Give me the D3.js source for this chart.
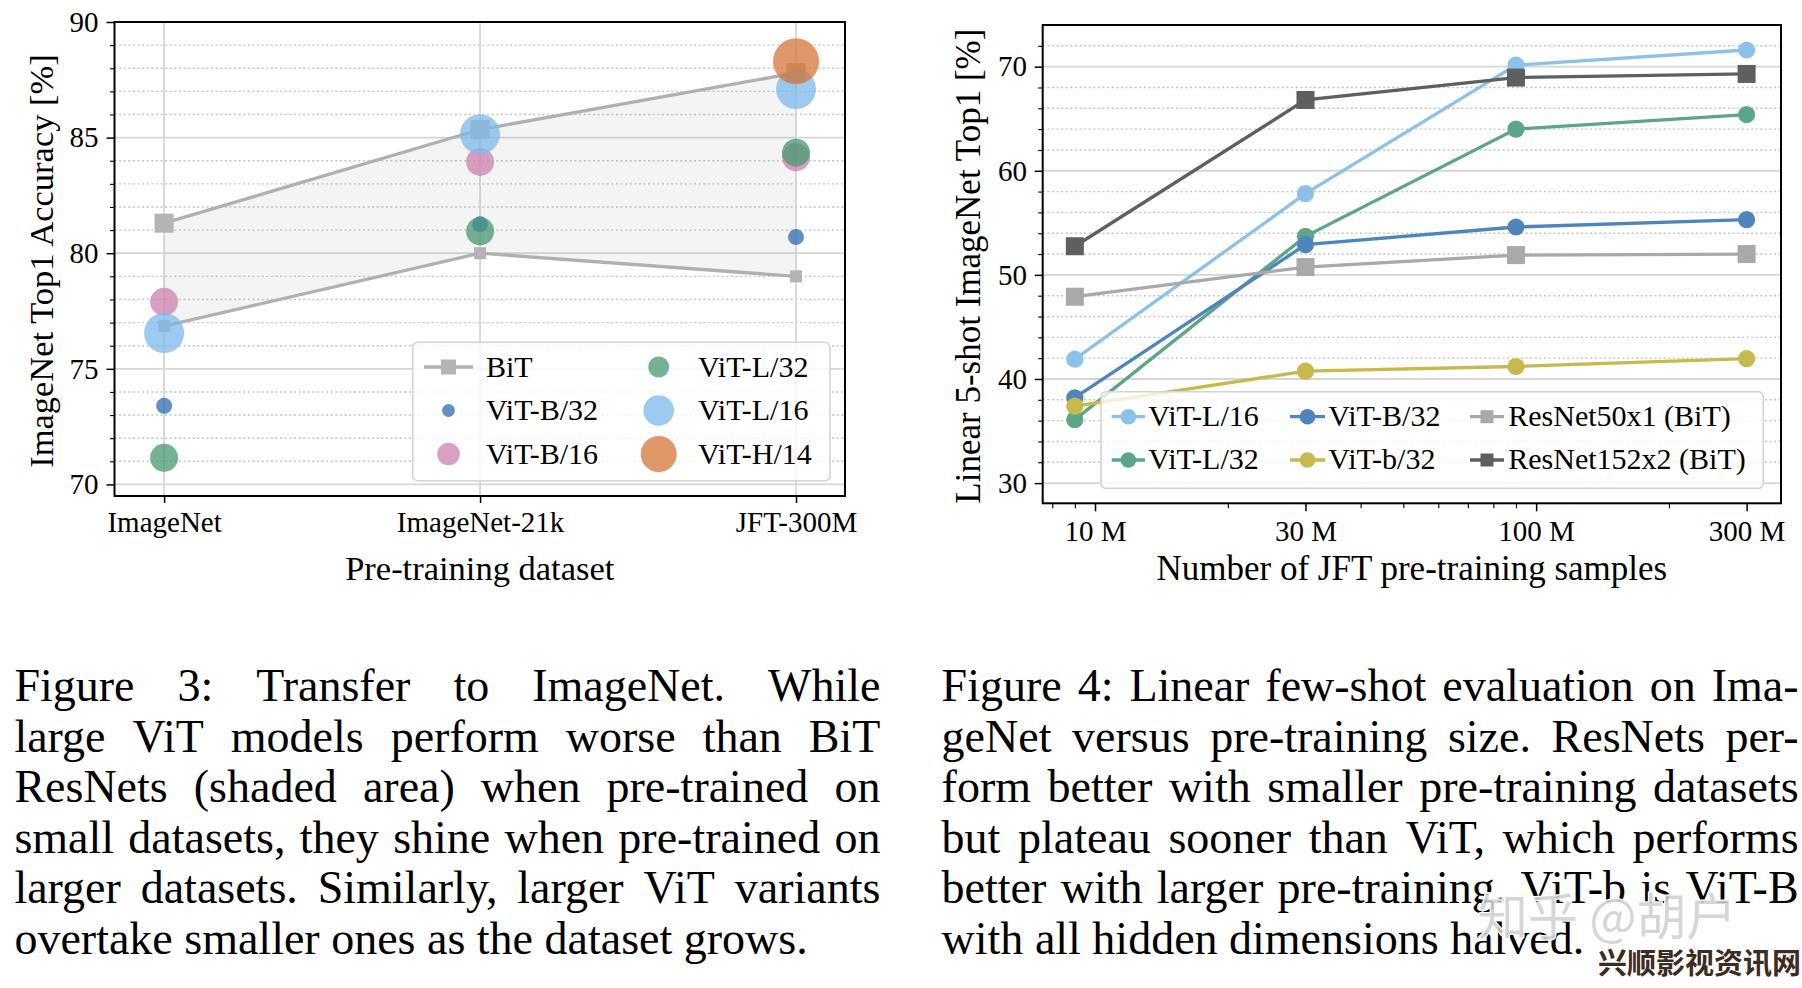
<!DOCTYPE html>
<html><head><meta charset="utf-8">
<script src="https://cdn.jsdelivr.net/npm/d3@7"></script>
<style>
html,body{margin:0;padding:0;background:#fff;}
svg{display:block;}
</style></head><body>
<svg id="fig" width="1802" height="988"></svg>
<script>
// ---------------- data: Figure 3 ----------------
const datasets = ["ImageNet", "ImageNet-21k", "JFT-300M"];
const bitUpper = [81.3, 85.35, 87.8];
const bitLower = [76.85, 80.0, 79.0];
const vitB32 = [73.4, 81.25, 80.7];
const vitB16 = [77.9, 83.95, 84.15];
const vitL32 = [71.15, 80.95, 84.35];
const vitL16 = [76.55, 85.15, 87.1];
const vitH14 = [null, null, 88.3];
const yTicks1 = [70, 75, 80, 85, 90];

// ---------------- data: Figure 4 ----------------
const samples = [9e6, 3e7, 9e7, 3e8];
const sampleTicks = [1e7, 3e7, 1e8, 3e8];
const sampleTickLabels = ["10 M", "30 M", "100 M", "300 M"];
const fsL16 = [41.9, 57.8, 70.15, 71.6];
const fsL32 = [36.1, 53.7, 64.0, 65.4];
const fsB32 = [38.2, 52.9, 54.6, 55.3];
const fsb32 = [37.4, 40.75, 41.2, 41.95];
const fsR50 = [47.9, 50.75, 51.9, 52.0];
const fsR152 = [52.75, 66.8, 68.95, 69.3];
const yTicks2 = [30, 40, 50, 60, 70];

// ---------------- captions ----------------
const caption3 = [
  "Figure 3: Transfer to ImageNet. While",
  "large ViT models perform worse than BiT",
  "ResNets (shaded area) when pre-trained on",
  "small datasets, they shine when pre-trained on",
  "larger datasets. Similarly, larger ViT variants",
  "overtake smaller ones as the dataset grows."
];
const caption4 = [
  "Figure 4: Linear few-shot evaluation on Ima-",
  "geNet versus pre-training size. ResNets per-",
  "form better with smaller pre-training datasets",
  "but plateau sooner than ViT, which performs",
  "better with larger pre-training. ViT-b is ViT-B",
  "with all hidden dimensions halved."
];

const SERIF = '"Liberation Serif","Times New Roman",serif';
const svg = d3.select("#fig");

function styleAxis(g, fs, sw) {
  g.attr("font-family", null).attr("font-size", null);
  g.select(".domain").remove();
  g.selectAll(".tick line").attr("stroke", "#000").attr("stroke-width", sw);
  g.selectAll(".tick text").attr("fill", "#000")
    .style("font-size", fs + "px").style("font-family", SERIF);
}

// ================= Figure 3 =================
const c1 = {l: 114.5, r: 845, t: 22, b: 496};
const x1 = d3.scaleLinear().domain([-0.157, 2.155]).range([c1.l, c1.r]);
const y1 = d3.scaleLinear().domain([69.5, 90]).range([c1.b, c1.t]);
const g1 = svg.append("g");

const minor1 = d3.range(70, 90).filter(v => v % 5 !== 0);
g1.selectAll(".mg1").data(minor1).join("line")
  .attr("x1", c1.l).attr("x2", c1.r).attr("y1", d => y1(d)).attr("y2", d => y1(d))
  .attr("stroke", "#c4c4c4").attr("stroke-width", 1.4).attr("stroke-dasharray", "2,2.6");
g1.selectAll(".Mg1").data(yTicks1).join("line")
  .attr("x1", c1.l).attr("x2", c1.r).attr("y1", d => y1(d)).attr("y2", d => y1(d))
  .attr("stroke", "#d6d6d6").attr("stroke-width", 1.8);
g1.selectAll(".vg1").data(datasets).join("line")
  .attr("x1", (d, i) => x1(i)).attr("x2", (d, i) => x1(i)).attr("y1", c1.t).attr("y2", c1.b)
  .attr("stroke", "#d6d6d6").attr("stroke-width", 1.8);

const area1 = d3.area().x((d, i) => x1(i)).y0((d, i) => y1(bitLower[i])).y1((d, i) => y1(bitUpper[i]));
g1.append("path").datum(datasets).attr("d", area1).attr("fill", "#9a9a9a").attr("fill-opacity", 0.11);
const line1 = d3.line().x((d, i) => x1(i)).y(d => y1(d));
[bitUpper, bitLower].forEach(arr => {
  g1.append("path").datum(arr).attr("d", line1).attr("fill", "none")
    .attr("stroke", "#b0b0b0").attr("stroke-width", 3.3);
});
[[bitUpper, 19], [bitLower, 12]].forEach(([arr, s]) => {
  g1.selectAll(null).data(arr).join("rect")
    .attr("x", (d, i) => x1(i) - s / 2).attr("y", d => y1(d) - s / 2)
    .attr("width", s).attr("height", s).attr("fill", "#b4b4b4");
});

const vitSeries = [
  {name: "ViT-B/32", vals: vitB32, color: "#2c6bb2", r: 8, lr: 6.4},
  {name: "ViT-B/16", vals: vitB16, color: "#cc80ae", r: 14, lr: 11.3},
  {name: "ViT-L/32", vals: vitL32, color: "#469870", r: 14, lr: 10.5},
  {name: "ViT-L/16", vals: vitL16, color: "#7bbaea", r: 20, lr: 15.3},
  {name: "ViT-H/14", vals: vitH14, color: "#d67438", r: 23, lr: 18}
];
vitSeries.forEach(s => {
  g1.selectAll(null).data(s.vals.map((v, i) => ({v, i})).filter(d => d.v !== null)).join("circle")
    .attr("cx", d => x1(d.i)).attr("cy", d => y1(d.v)).attr("r", s.r)
    .attr("fill", s.color).attr("fill-opacity", 0.75);
});

const ax1y = svg.append("g").attr("transform", `translate(${c1.l},0)`)
  .call(d3.axisLeft(y1).tickValues(yTicks1).tickSize(8).tickPadding(8).tickFormat(d3.format("d")));
styleAxis(ax1y, 29, 1.5);
const ax1ym = svg.append("g").attr("transform", `translate(${c1.l},0)`)
  .call(d3.axisLeft(y1).tickValues(minor1).tickSize(4.5).tickFormat(""));
styleAxis(ax1ym, 29, 1.1);
const ax1x = svg.append("g").attr("transform", `translate(0,${c1.b})`)
  .call(d3.axisBottom(x1).tickValues([0, 1, 2]).tickSize(7).tickPadding(8.4).tickFormat(i => datasets[i]));
styleAxis(ax1x, 29, 1.5);

svg.append("rect").attr("x", c1.l).attr("y", c1.t).attr("width", c1.r - c1.l).attr("height", c1.b - c1.t)
  .attr("fill", "none").attr("stroke", "#000").attr("stroke-width", 2);

svg.append("text").attr("x", (c1.l + c1.r) / 2).attr("y", 580).attr("text-anchor", "middle")
  .style("font-family", SERIF).style("font-size", "34.5px").text("Pre-training dataset");
svg.append("text").attr("transform", `translate(53,${(c1.t + c1.b) / 2 + 2}) rotate(-90)`).attr("text-anchor", "middle")
  .style("font-family", SERIF).style("font-size", "34.5px").text("ImageNet Top1 Accuracy [%]");

// legend 1
const lg1 = svg.append("g");
lg1.append("rect").attr("x", 412.7).attr("y", 342.3).attr("width", 417.3).attr("height", 138.4).attr("rx", 5)
  .attr("fill", "#fff").attr("fill-opacity", 0.8).attr("stroke", "#d4d4d4").attr("stroke-width", 1.6);
const rows1 = [367, 410.5, 454];
const legItems1 = [
  {type: "bit", name: "BiT", col: 0, row: 0},
  {type: "vit", s: vitSeries[0], col: 0, row: 1},
  {type: "vit", s: vitSeries[1], col: 0, row: 2},
  {type: "vit", s: vitSeries[2], col: 1, row: 0},
  {type: "vit", s: vitSeries[3], col: 1, row: 1},
  {type: "vit", s: vitSeries[4], col: 1, row: 2}
];
const colX1 = [{m: 448.5, t: 486}, {m: 658.7, t: 698}];
legItems1.forEach(it => {
  const cy = rows1[it.row], cx = colX1[it.col];
  if (it.type === "bit") {
    lg1.append("line").attr("x1", 424).attr("x2", 473).attr("y1", cy).attr("y2", cy)
      .attr("stroke", "#b0b0b0").attr("stroke-width", 3.3);
    lg1.append("rect").attr("x", cx.m - 7.5).attr("y", cy - 7.5).attr("width", 15).attr("height", 15).attr("fill", "#b4b4b4");
  } else {
    lg1.append("circle").attr("cx", cx.m).attr("cy", cy).attr("r", it.s.lr)
      .attr("fill", it.s.color).attr("fill-opacity", 0.75);
  }
  lg1.append("text").attr("x", cx.t).attr("y", cy).attr("dy", "0.32em")
    .style("font-family", SERIF).style("font-size", "30px").text(it.type === "bit" ? it.name : it.s.name);
});

// ================= Figure 4 =================
const c2 = {l: 1042.7, r: 1781, t: 25, b: 503.3};
const x2 = d3.scaleLog().domain([7.61e6, 3.59e8]).range([c2.l, c2.r]);
const y2 = d3.scaleLinear().domain([28.06, 74.0]).range([c2.b, c2.t]);
const g2 = svg.append("g");
const minor2 = d3.range(30, 74, 2).filter(v => v % 10 !== 0);
g2.selectAll(".mg2").data(minor2).join("line")
  .attr("x1", c2.l).attr("x2", c2.r).attr("y1", d => y2(d)).attr("y2", d => y2(d))
  .attr("stroke", "#c4c4c4").attr("stroke-width", 1.4).attr("stroke-dasharray", "2,2.6");
g2.selectAll(".Mg2").data(yTicks2).join("line")
  .attr("x1", c2.l).attr("x2", c2.r).attr("y1", d => y2(d)).attr("y2", d => y2(d))
  .attr("stroke", "#d6d6d6").attr("stroke-width", 1.8);

const fsSeries = [
  {name: "ViT-L/16", vals: fsL16, color: "#8cc2ea", m: "c"},
  {name: "ViT-L/32", vals: fsL32, color: "#5ba687", m: "c"},
  {name: "ViT-B/32", vals: fsB32, color: "#4f85bd", m: "c"},
  {name: "ViT-b/32", vals: fsb32, color: "#c8b94d", m: "c"},
  {name: "ResNet50x1 (BiT)", vals: fsR50, color: "#a9a9a9", m: "s"},
  {name: "ResNet152x2 (BiT)", vals: fsR152, color: "#5f5f5f", m: "s"}
];
const line2 = d3.line().x((d, i) => x2(samples[i])).y(d => y2(d));
fsSeries.forEach(s => {
  g2.append("path").datum(s.vals).attr("d", line2).attr("fill", "none")
    .attr("stroke", s.color).attr("stroke-width", 3.3);
  if (s.m === "c") {
    g2.selectAll(null).data(s.vals).join("circle")
      .attr("cx", (d, i) => x2(samples[i])).attr("cy", d => y2(d)).attr("r", 8.6).attr("fill", s.color);
  } else {
    g2.selectAll(null).data(s.vals).join("rect")
      .attr("x", (d, i) => x2(samples[i]) - 9).attr("y", d => y2(d) - 9)
      .attr("width", 18).attr("height", 18).attr("fill", s.color);
  }
});

const ax2y = svg.append("g").attr("transform", `translate(${c2.l},0)`)
  .call(d3.axisLeft(y2).tickValues(yTicks2).tickSize(8).tickPadding(7.7).tickFormat(d3.format("d")));
styleAxis(ax2y, 29, 1.5);
const ax2ym = svg.append("g").attr("transform", `translate(${c2.l},0)`)
  .call(d3.axisLeft(y2).tickValues(minor2).tickSize(4.5).tickFormat(""));
styleAxis(ax2ym, 29, 1.1);
const ax2x = svg.append("g").attr("transform", `translate(0,${c2.b})`)
  .call(d3.axisBottom(x2).tickValues(sampleTicks).tickSize(8).tickPadding(8.8).tickFormat((d, i) => sampleTickLabels[i]));
styleAxis(ax2x, 29, 1.5);
const minorX2 = x2.ticks().filter(v => !sampleTicks.some(t => Math.abs(t - v) < 1));
const ax2xm = svg.append("g").attr("transform", `translate(0,${c2.b})`)
  .call(d3.axisBottom(x2).tickValues(minorX2).tickSize(5).tickFormat(""));
styleAxis(ax2xm, 29, 1.1);

// legend 2
const lg2 = svg.append("g");
lg2.append("rect").attr("x", 1101).attr("y", 391.7).attr("width", 662.3).attr("height", 96.6).attr("rx", 5)
  .attr("fill", "#fff").attr("fill-opacity", 0.8).attr("stroke", "#d4d4d4").attr("stroke-width", 1.6);
const rows2 = [416.7, 460];
const cols2 = [{a: 1111.7, b: 1145, t: 1148.3}, {a: 1290, b: 1325, t: 1328.3}, {a: 1470, b: 1504, t: 1508.3}];
fsSeries.forEach((s, k) => {
  const col = cols2[Math.floor(k / 2)], cy = rows2[k % 2], mx = (col.a + col.b) / 2;
  lg2.append("line").attr("x1", col.a).attr("x2", col.b).attr("y1", cy).attr("y2", cy)
    .attr("stroke", s.color).attr("stroke-width", 3.3);
  if (s.m === "c") lg2.append("circle").attr("cx", mx).attr("cy", cy).attr("r", 7.8).attr("fill", s.color);
  else lg2.append("rect").attr("x", mx - 6.5).attr("y", cy - 6.5).attr("width", 13).attr("height", 13).attr("fill", s.color);
  lg2.append("text").attr("x", col.t).attr("y", cy).attr("dy", "0.3em")
    .style("font-family", SERIF).style("font-size", "30px").text(s.name);
});

svg.append("rect").attr("x", c2.l).attr("y", c2.t).attr("width", c2.r - c2.l).attr("height", c2.b - c2.t)
  .attr("fill", "none").attr("stroke", "#000").attr("stroke-width", 2);

svg.append("text").attr("x", (c2.l + c2.r) / 2).attr("y", 580).attr("text-anchor", "middle")
  .style("font-family", SERIF).style("font-size", "35px").text("Number of JFT pre-training samples");
svg.append("text").attr("transform", `translate(980,${(c2.t + c2.b) / 2 + 2}) rotate(-90)`).attr("text-anchor", "middle")
  .style("font-family", SERIF).style("font-size", "35px").text("Linear 5-shot ImageNet Top1 [%]");

// ================= captions (justified lines) =================
function drawCaption(lines, x0, width, y0, pitch, fs) {
  const g = svg.append("g").style("font-family", SERIF).style("font-size", fs + "px").attr("fill", "#000");
  const probe = g.append("text");
  const spaceW = fs * 0.25;
  lines.forEach((ln, li) => {
    const words = ln.split(" ");
    const widths = words.map(w => { probe.text(w); return probe.node().getComputedTextLength(); });
    const total = d3.sum(widths);
    const last = li === lines.length - 1;
    const gap = last ? spaceW : (width - total) / (words.length - 1);
    let x = x0;
    const t = g.append("text").attr("y", y0 + li * pitch);
    words.forEach((w, k) => {
      t.append("tspan").attr("x", x).text(w);
      x += widths[k] + gap;
    });
  });
  probe.remove();
}
drawCaption(caption3, 14.4, 866, 701, 50.5, 46);
drawCaption(caption4, 941.6, 857, 701, 50.5, 46);

// watermarks
svg.append("text").attr("x", 1478).attr("y", 935)
  .style("font-family", '"Noto Sans CJK SC",sans-serif').style("font-size", "50px")
  .attr("fill", "#cfcfcf").attr("fill-opacity", 0.85).attr("stroke", "#fff").attr("stroke-width", 2)
  .attr("paint-order", "stroke").text("知乎 @胡户");
svg.append("text").attr("x", 1598).attr("y", 974)
  .style("font-family", '"Noto Sans CJK SC",sans-serif').style("font-size", "29px").style("font-weight", "bold")
  .attr("fill", "#3d2c22").attr("stroke", "#fff").attr("stroke-width", 3).attr("paint-order", "stroke")
  .text("兴顺影视资讯网");
</script>
</body></html>
